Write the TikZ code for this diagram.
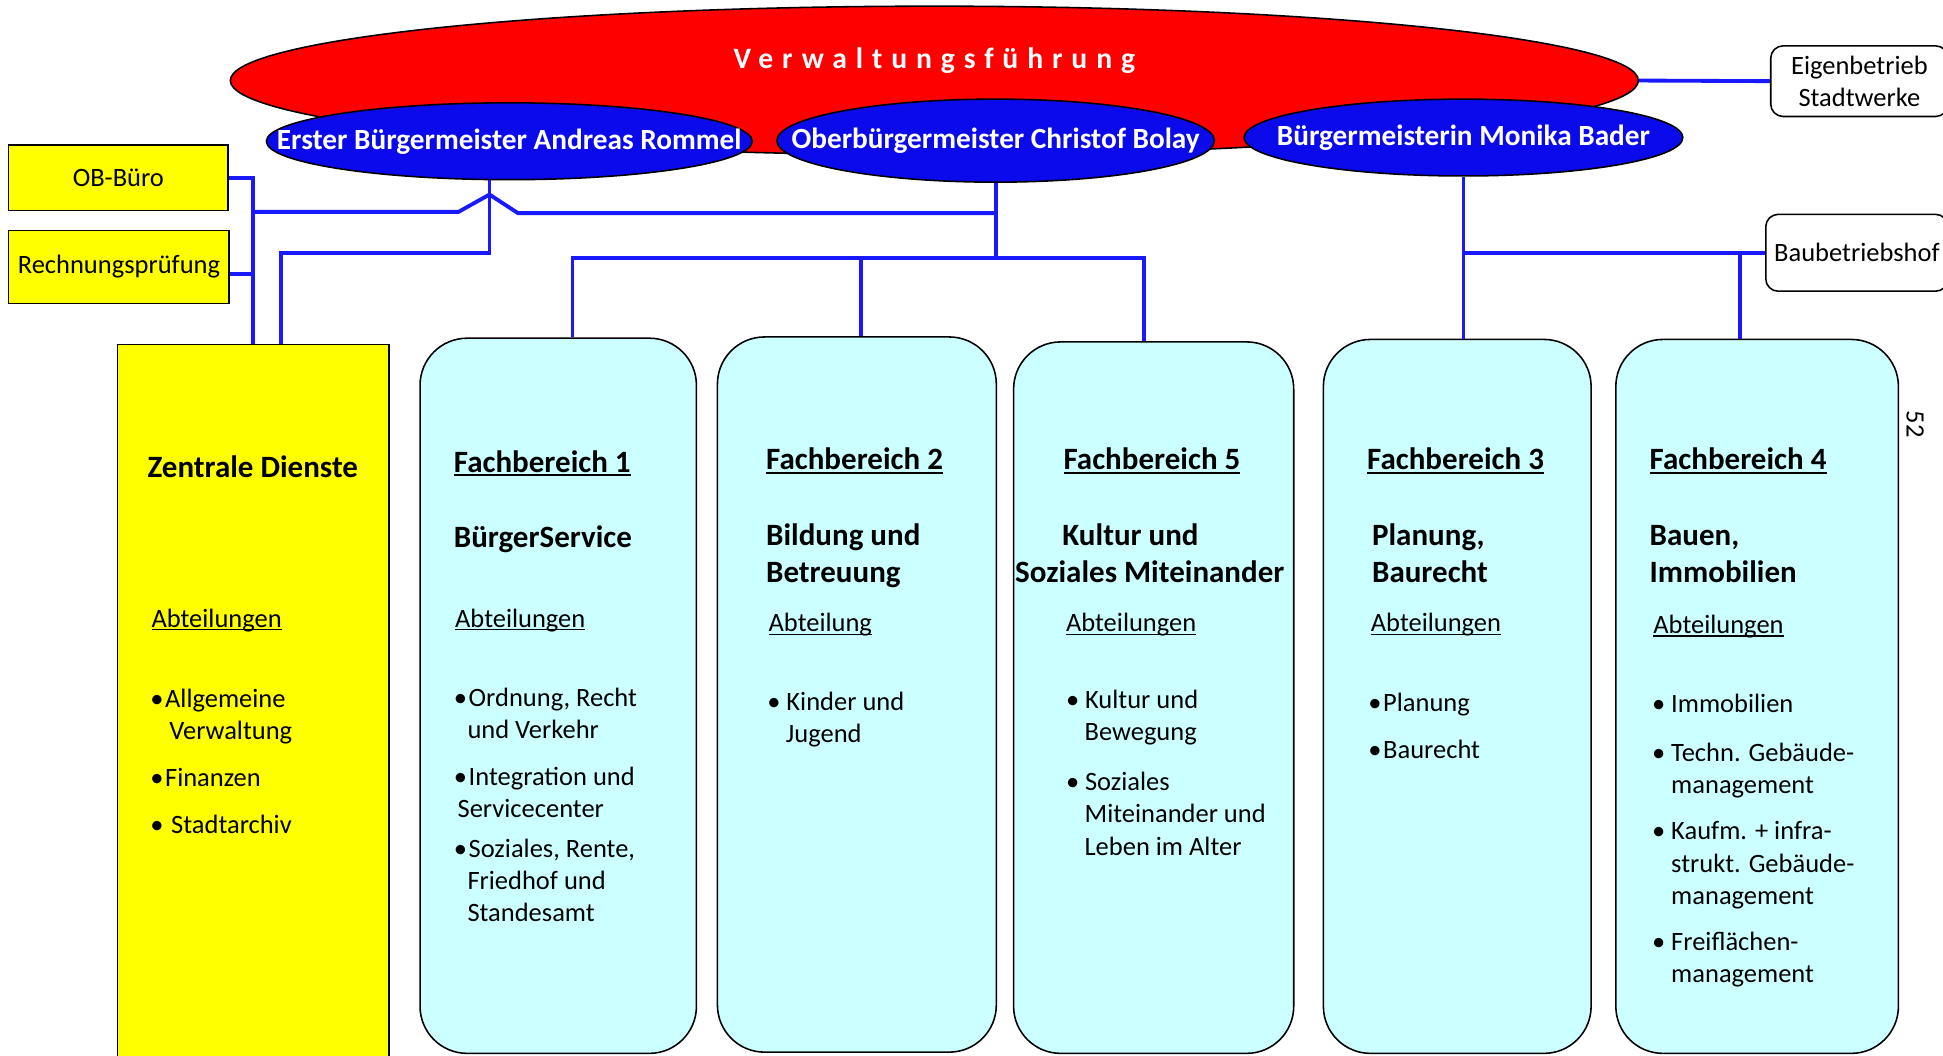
\documentclass[tikz,border=0pt]{standalone}
\usepackage{fontspec}
\setmainfont{Carlito}
\newfontfamily\spacedfont[LetterSpace=30]{Carlito}
\usepackage{tikz}
\usetikzlibrary{shapes.geometric}
\definecolor{vfred}{RGB}{255,0,0}
\definecolor{bmblue}{RGB}{10,10,235}
\definecolor{lineblue}{RGB}{25,25,255}
\definecolor{fbcyan}{RGB}{204,255,255}
\definecolor{zdyellow}{RGB}{255,255,0}
\newsavebox{\strichbox}
\newcommand{\strich}[1]{\sbox{\strichbox}{#1}\rlap{\rule[-0.13em]{\wd\strichbox}{0.06em}}\usebox{\strichbox}}
\newcommand{\pkt}[1][0.42em]{\makebox[#1][l]{\hspace{-0.14em}•}}

\begin{document}
\begin{tikzpicture}[x = 0.025cm, y = -0.025cm,
	conn/.style = {draw = lineblue, line width = 2.2pt},
	fbbox/.style = {draw, fill = fbcyan, rounded corners = 0.95cm, line width = 0.9pt, inner sep = 0},
	gelb/.style = {draw, fill = zdyellow, line width = 0.9pt, inner sep = 0, font = \fontsize{15.2pt}{18.5pt}\selectfont},
	weiss/.style = {draw, fill = white, rounded corners = 0.25cm, line width = 0.9pt, inner sep = 0, align = center, font = \fontsize{15.2pt}{18.5pt}\selectfont},
	bmell/.style = {ellipse, draw, fill = bmblue, line width = 0.9pt, inner sep = 0, text = white, font = \fontsize{16.8pt}{20pt}\selectfont\bfseries},
	txt/.style = {anchor = base west, inner sep = 0, align = left, font = \fontsize{15.2pt}{18.5pt}\selectfont},
	head/.style = {anchor = base west, inner sep = 0, align = left, font = \fontsize{17.8pt}{21.3pt}\selectfont\bfseries}]
	\useasboundingbox (0,0) rectangle (1568,852);
	\node[ellipse, draw, fill = vfred, line width = 0.9pt, minimum width = 28.4cm, minimum height = 3cm] (vf) at (754,65) {};
	\node[anchor = base, inner sep = 0, text = white, font = \spacedfont\fontsize{17pt}{20pt}\selectfont\bfseries] (vftitel) at (754,55) {Verwaltungsführung};
	\node[bmell, minimum width = 9.8cm, minimum height = 1.55cm] (ebm) at (411,114) {\makebox[0pt]{Erster Bürgermeister Andreas Rommel}};
	\node[bmell, minimum width = 8.825cm, minimum height = 1.675cm] (obm) at (803.5,113.5) {\makebox[0pt]{Oberbürgermeister Christof Bolay}};
	\node[bmell, minimum width = 8.85cm, minimum height = 1.55cm] (bgm) at (1181,111) {\makebox[0pt]{Bürgermeisterin Monika Bader}};
	\node[gelb, minimum width = 4.425cm, minimum height = 1.325cm] (obbuero) at (95.5,143.5) {OB-Büro};
	\node[gelb, minimum width = 4.45cm, minimum height = 1.475cm] (rpruef) at (96,215.5) {Rechnungsprüfung};
	\node[weiss, minimum width = 3.575cm, minimum height = 1.425cm] (stadtwerke) at (1500.5,65.5) {Eigenbetrieb\\Stadtwerke};
	\node[weiss, minimum width = 3.675cm, minimum height = 1.55cm] (bauhof) at (1498.5,204) {Baubetriebshof};
	\node[gelb, minimum width = 5.475cm, minimum height = 14.8cm] (zd) at (204.5,574) {};
	\node[fbbox, minimum width = 5.575cm, minimum height = 14.425cm] (fb1) at (450.5,561.5) {};
	\node[fbbox, minimum width = 5.625cm, minimum height = 14.425cm] (fb2) at (691.5,560.5) {};
	\node[fbbox, minimum width = 5.65cm, minimum height = 14.35cm] (fb5) at (931,563) {};
	\node[fbbox, minimum width = 5.4cm, minimum height = 14.4cm] (fb3) at (1176,562) {};
	\node[fbbox, minimum width = 5.7cm, minimum height = 14.4cm] (fb4) at (1418,562) {};

	\node[head, anchor = base] (zdtitel) at (204,385) {Zentrale Dienste};
	\node[txt] (zdabt) at (122,506) {\strich{Abteilungen}};
	\node[txt] (zdliste) at (124,673) {\pkt Allgemeine\\\hspace*{0.31cm}Verwaltung\\[0.3cm]\pkt Finanzen\\[0.3cm]\pkt[0.65em]Stadtarchiv};

	\node[head] (fb1titel) at (366,381) {\strich{Fachbereich 1}};
	\node[head] (fb1name) at (366,442) {BürgerService};
	\node[txt] (fb1abt) at (367,506) {\strich{Abteilungen}};
	\node[txt] (fb1liste) at (369,744) {\pkt Ordnung, Recht\\\hspace*{0.2cm}und Verkehr\\[0.3cm]\pkt Integration und\\Servicecenter\\[0.15cm]\pkt Soziales, Rente,\\\hspace*{0.2cm}Friedhof und\\\hspace*{0.2cm}Standesamt};

	\node[head] (fb2titel) at (618,379) {\strich{Fachbereich 2}};
	\node[head] (fb2name) at (618,470) {Bildung und\\Betreuung};
	\node[txt] (fb2abt) at (620,510) {\strich{Abteilung}};
	\node[txt] (fb2liste) at (622,599) {\pkt[0.58em]Kinder und\\\hspace*{0.3cm}Jugend};

	\node[head] (fb5titel) at (858,379) {\strich{Fachbereich 5}};
	\node[head] (fb5name) at (819,470) {\hspace*{0.95cm}Kultur und\\Soziales Miteinander};
	\node[txt] (fb5abt) at (860,510) {\strich{Abteilungen}};
	\node[txt] (fb5liste) at (863,690) {\pkt[0.58em]Kultur und\\\hspace*{0.3cm}Bewegung\\[0.35cm]\pkt[0.58em]Soziales\\\hspace*{0.3cm}Miteinander und\\\hspace*{0.3cm}Leben im Alter};

	\node[head] (fb3titel) at (1103,379) {\strich{Fachbereich 3}};
	\node[head] (fb3name) at (1107,470) {Planung,\\Baurecht};
	\node[txt] (fb3abt) at (1106,510) {\strich{Abteilungen}};
	\node[txt] (fb3liste) at (1107,612) {\pkt Planung\\[0.3cm]\pkt Baurecht};

	\node[head] (fb4titel) at (1331,379) {\strich{Fachbereich 4}};
	\node[head] (fb4name) at (1331,470) {Bauen,\\Immobilien};
	\node[txt] (fb4abt) at (1334,511) {\strich{Abteilungen}};
	\node[txt] (fb4liste) at (1336,793) {\pkt[0.58em]Immobilien\\[0.33cm]\pkt[0.58em]Techn. Gebäude-\\\hspace*{0.31cm}management\\[0.28cm]\pkt[0.58em]Kaufm. + infra-\\\hspace*{0.31cm}strukt. Gebäude-\\\hspace*{0.31cm}management\\[0.28cm]\pkt[0.58em]Freiflächen-\\\hspace*{0.31cm}management};

	\node[txt, anchor = center, rotate = -90] (seite) at (1545.5,342.5) {52};

	\coordinate (hopl) at (370,171);
	\coordinate (hop) at (395,157);
	\coordinate (hopr) at (418,172);
	\coordinate (ej) at (395,204);
	\coordinate (zj) at (227,204);
	\coordinate (b1) at (462,208);
	\coordinate (b2) at (695,208);
	\coordinate (b5) at (923,208);
	\coordinate (b4) at (1404,203);
	\draw[conn] (obbuero.east) -| (zd.north);
	\draw[conn] ([yshift = -0.14cm]rpruef.east) -- ([yshift = -0.14cm]rpruef.east -| zd.north);
	\draw[conn] (hopl -| zd.north) -- (hopl) -- (hop) -- (hopr) -- (hopr -| obm.south);
	\draw[conn] (ej |- ebm.south) -- (ej) -- (zj) -- (zj |- zd.north);
	\draw[conn] (obm.south) -- (obm.south |- b1);
	\draw[conn] (b1 |- fb1.north) -- (b1) -- (b5) -- (b5 |- fb5.north);
	\draw[conn] (b2) -- (b2 |- fb2.north);
	\draw[conn] (bgm.south) -- (bgm.south |- fb3.north);
	\draw[conn] (bgm.south |- bauhof.west) -- (bauhof.west);
	\draw[conn] (b4) -- (b4 |- fb4.north);
	\draw[conn] (vf.east) -- (stadtwerke.west);
\end{tikzpicture}
\end{document}
